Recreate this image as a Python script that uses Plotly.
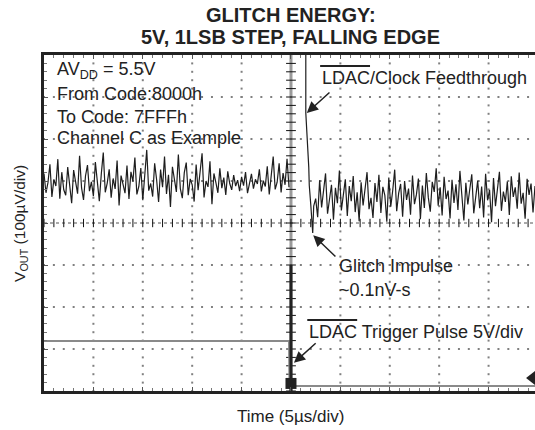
import numpy as np
import plotly.graph_objects as go

# ---- data (time in divisions of 5µs, V_OUT in µV; 100µV per division) ----
# Channel C output before the LDAC edge, sampled every 0.04 div
vout_before = [
    118, 72, 96, 140, 62, 104, 88, 152, 58, 121, 79, 66, 133, 92, 47, 126, 101, 70, 160, 84, 55, 112, 138, 76, 98,
    64, 145, 90, 52, 117, 168, 73, 95, 128, 60, 106, 81, 149, 42, 113, 93, 71, 137, 57, 122, 99, 156, 68, 87, 131,
    54, 109, 174, 77, 94, 63, 142, 103, 50, 127, 85, 158, 69, 115, 38, 134, 97, 74, 163, 82, 59, 120, 144, 66, 105,
    91, 51, 139, 78, 124, 166, 61, 100, 86, 147, 45, 118, 96, 72, 130, 83, 108, 67, 123, 94, 79, 114, 88, 102, 76,
    110, 89, 121, 71, 98, 117, 82, 104, 93, 128, 75, 101, 87, 135, 68, 112, 158, 80, 97, 142, 73, 119, 91, 153, 85,
]
# LDAC/clock feedthrough spike followed by the glitch impulse
edge_t = [5.30, 5.30, 5.36, 5.37, 5.40, 5.44, 5.46]
edge_v = [420, 262, 133, 90, 45, -24, 40]
# Channel C output after the code change (7FFFh), sampled every 0.04 div
vout_after = [
    58, 14, 102, 37, 76, 118, 22, 63, 91, 8, 84, 47, 125, 30, 69, 104, 17, 88, 52, 112, 26, 73, 4, 97,
    42, 80, 121, 33, 60, 12, 95, 50, 115, 24, 86, 66, 3, 108, 39, 78, 127, 28, 71, 93, 15, 100, 55, 82,
    20, 113, 45, 68, 106, 9, 89, 36, 119, 61, 27, 98, 74, 130, 41, 85, 18, 110, 57, 77, 11, 103, 48, 92,
    31, 124, 65, 6, 96, 44, 81, 116, 23, 70, 101, 35, 87, 13, 117, 54, 79, 2, 107, 40, 90, 122, 29, 75,
    50, 99, 19, 111, 62, 85, 34, 120, 46, 72, 10, 105, 67, 94, 25, 88,
]
# LDAC trigger pulse (5V/div), shown on the same screen grid
trig_t = [0.0, 4.96, 4.97, 5.02, 9.94]
trig_v = [-281, -281, -388, -388, -388]
trig_edge_t = [5.0, 5.0]
trig_edge_v = [-100, -400]

X_MAX = 9.94
STEP = 0.04

t_before = np.arange(len(vout_before)) * STEP
t_after = 5.50 + np.arange(len(vout_after)) * STEP
t_post = np.concatenate([edge_t, t_after])
v_post = np.concatenate([edge_v, vout_after])

FONT = "Liberation Sans, Arial, sans-serif"
INK = "#222222"

fig = go.Figure()

# graticule dots (every 1/5 division along each major line)
gx, gy = [], []
for xv in [1, 2, 3, 4, 6, 7, 8, 9]:
    ys = np.arange(-4, 4.001, 0.2) * 100
    gx += [xv] * len(ys)
    gy += list(ys)
for yv in [-300, -200, -100, 100, 200, 300]:
    xs = np.arange(0, X_MAX, 0.2)
    gx += list(xs)
    gy += [yv] * len(xs)
fig.add_trace(go.Scatter(x=gx, y=gy, mode="markers",
                         marker=dict(symbol="square", size=2, color="#808080"),
                         hoverinfo="skip", showlegend=False))

# centre cross tick marks
cy = np.arange(-4, 4.001, 0.2) * 100
fig.add_trace(go.Scatter(x=[5.0] * len(cy), y=cy, mode="markers",
                         marker=dict(symbol="line-ew", size=7,
                                     line=dict(width=1, color="#111")),
                         hoverinfo="skip", showlegend=False))
cx = np.arange(0, X_MAX, 0.2)
fig.add_trace(go.Scatter(x=cx, y=[0] * len(cx), mode="markers",
                         marker=dict(symbol="line-ns", size=6,
                                     line=dict(width=1, color="#111")),
                         hoverinfo="skip", showlegend=False))

# trigger channel
fig.add_trace(go.Scatter(x=trig_t, y=trig_v, mode="lines",
                         line=dict(color="#8a8a8a", width=2),
                         hoverinfo="skip", showlegend=False))
fig.add_trace(go.Scatter(x=trig_edge_t, y=trig_edge_v, mode="lines",
                         line=dict(color=INK, width=3),
                         hoverinfo="skip", showlegend=False))

# V_OUT trace, before and after the LDAC edge
fig.add_trace(go.Scatter(x=t_before, y=vout_before, mode="lines",
                         line=dict(color="#1e1e1e", width=1.2),
                         hoverinfo="skip", showlegend=False))
fig.add_trace(go.Scatter(x=t_post, y=v_post, mode="lines",
                         line=dict(color="#1e1e1e", width=1.2),
                         hoverinfo="skip", showlegend=False))

# trigger position and ground reference markers
fig.add_trace(go.Scatter(x=[5.0], y=[-382], mode="markers",
                         marker=dict(symbol="square", size=11, color=INK),
                         hoverinfo="skip", showlegend=False, cliponaxis=False))
fig.add_trace(go.Scatter(x=[9.88], y=[-369], mode="markers",
                         marker=dict(symbol="triangle-left", size=12, color=INK),
                         hoverinfo="skip", showlegend=False, cliponaxis=False))

shapes = [
    # centre vertical graticule line
    dict(type="line", xref="x", yref="y", x0=5.0, x1=5.0, y0=-400, y1=400,
         line=dict(color="#9a9a9a", width=3), layer="below"),
    # centre horizontal graticule line
    dict(type="line", xref="x", yref="y", x0=0, x1=X_MAX, y0=0, y1=0,
         line=dict(color="#555", width=1, dash="dot"), layer="below"),
    # overbars for LDAC
    dict(type="line", xref="x", yref="y", x0=5.59, x1=6.60, y0=374, y1=374,
         line=dict(color=INK, width=2)),
    dict(type="line", xref="x", yref="y", x0=5.33, x1=6.34, y0=-231, y1=-231,
         line=dict(color=INK, width=2)),
]

ann = []
tf = dict(family=FONT, size=18, color=INK)


def label(x, y, text, **kw):
    ann.append(dict(x=x, y=y, xref="x", yref="y", text=text, showarrow=False,
                    xanchor="left", yanchor="middle", font=tf, **kw))


label(0.22, 362, "AV<sub>DD</sub> = 5.5V")
label(0.22, 307, "From Code:8000h")
label(0.22, 252, "To Code: 7FFFh")
label(0.22, 202, "Channel C as Example")
label(5.59, 345, "LDAC/Clock Feedthrough")
label(5.93, -102, "Glitch Impulse")
label(5.93, -160, "~0.1nV-s")
label(5.33, -259, "LDAC Trigger Pulse 5V/div")

for (hx, hy, tx, ty) in [(5.32, 262, 5.81, 314), (5.45, -29, 5.93, -83), (5.06, -333, 5.53, -283)]:
    ann.append(dict(x=hx, y=hy, ax=tx, ay=ty, xref="x", yref="y", axref="x", ayref="y",
                    showarrow=True, arrowhead=2, arrowsize=1.5, arrowwidth=1.5,
                    arrowcolor=INK, text=""))

# titles
ann.append(dict(x=5.0, y=1.119, xref="x", yref="paper", showarrow=False,
                text="<b>GLITCH ENERGY:</b>", font=dict(family=FONT, size=20, color=INK),
                xanchor="center", yanchor="middle"))
ann.append(dict(x=5.0, y=1.055, xref="x", yref="paper", showarrow=False,
                text="<b>5V, 1LSB STEP, FALLING EDGE</b>", font=dict(family=FONT, size=20, color=INK),
                xanchor="center", yanchor="middle"))
ann.append(dict(x=5.0, y=-0.077, xref="x", yref="paper", showarrow=False,
                text="Time (5µs/div)", font=dict(family=FONT, size=17, color=INK),
                xanchor="center", yanchor="middle"))
ann.append(dict(x=-0.049, y=0.50, xref="paper", yref="paper", showarrow=False,
                text="V<sub>OUT</sub> (100µV/div)", textangle=-90,
                font=dict(family=FONT, size=15.5, color=INK),
                xanchor="center", yanchor="middle"))

fig.update_layout(
    width=535, height=430,
    margin=dict(l=44, r=0, t=55, b=39),
    paper_bgcolor="white", plot_bgcolor="white",
    shapes=shapes, annotations=ann,
    xaxis=dict(range=[0, X_MAX], showgrid=False, zeroline=False,
               showline=True, linewidth=3, linecolor=INK, mirror="allticks",
               ticks="inside", dtick=1, tick0=0, ticklen=4, tickcolor="#555",
               showticklabels=False,
               minor=dict(dtick=0.2, tick0=0, ticks="inside", ticklen=3, tickcolor="#777")),
    yaxis=dict(range=[-400, 400], showgrid=False, zeroline=False,
               showline=True, linewidth=3, linecolor=INK, mirror=False,
               ticks="inside", dtick=100, tick0=0, ticklen=4, tickcolor="#555",
               showticklabels=False,
               minor=dict(dtick=20, tick0=0, ticks="inside", ticklen=3, tickcolor="#777")),
)

fig.write_html("out.html")
